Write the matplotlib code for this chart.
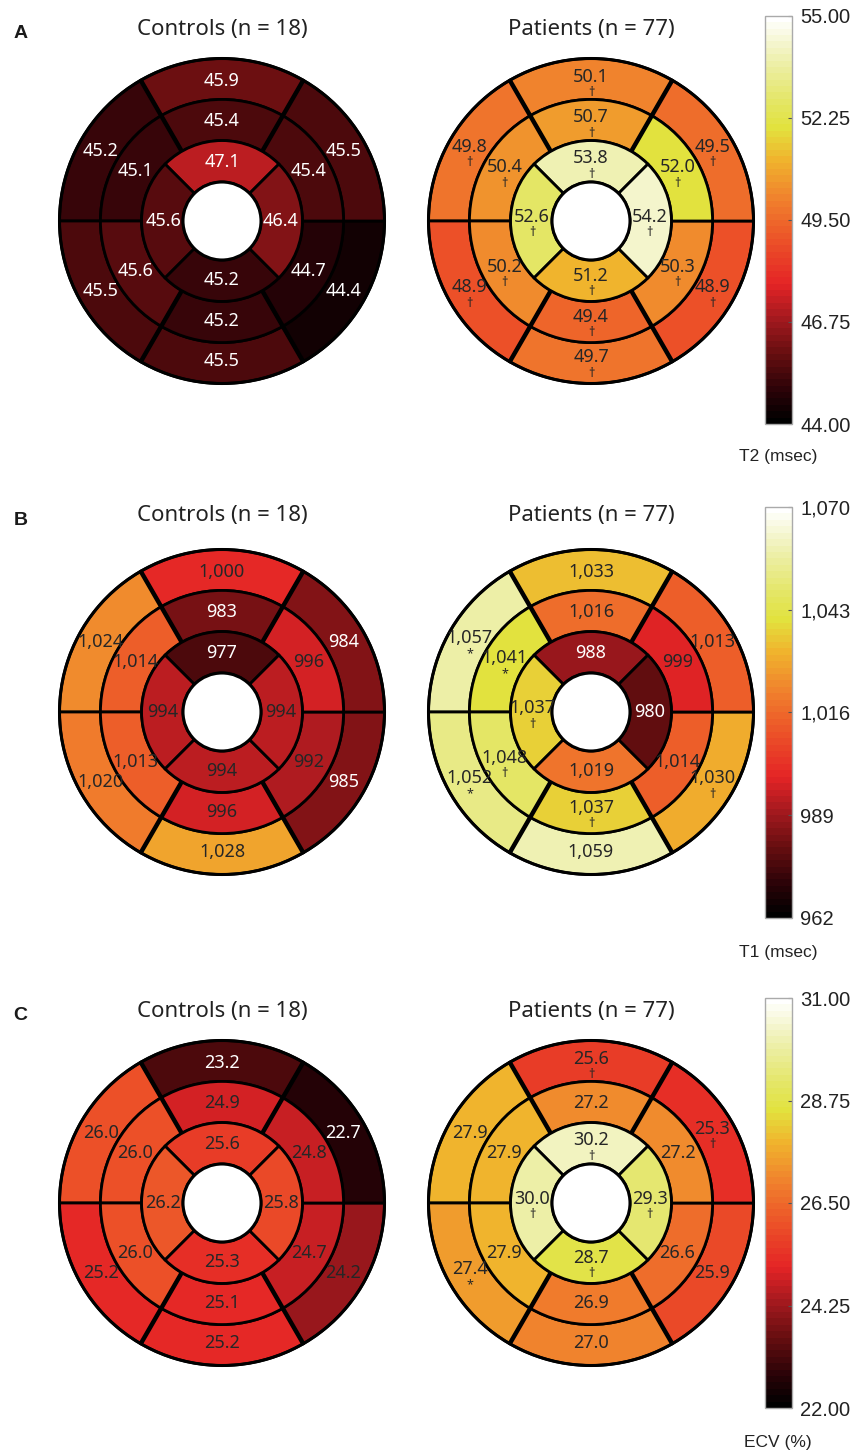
import numpy as np
import matplotlib
matplotlib.use("Agg")
import matplotlib.pyplot as plt
from matplotlib.patches import Wedge, Circle
from matplotlib.colors import LinearSegmentedColormap, Normalize
from matplotlib.cm import ScalarMappable

# ---------------- data ----------------
# ring order: top, upper-left, lower-left, bottom, lower-right, upper-right
# inner ring order: top, left, bottom, right
t2_ctrl_basal = [45.9, 45.2, 45.5, 45.5, 44.4, 45.5]
t2_ctrl_mid = [45.4, 45.1, 45.6, 45.2, 44.7, 45.4]
t2_ctrl_apical = [47.1, 45.6, 45.2, 46.4]
t2_pat_basal = [50.1, 49.8, 48.9, 49.7, 48.9, 49.5]
t2_pat_mid = [50.7, 50.4, 50.2, 49.4, 50.3, 52.0]
t2_pat_apical = [53.8, 52.6, 51.2, 54.2]
t2_pat_basal_mark = ["†"] * 6
t2_pat_mid_mark = ["†"] * 6
t2_pat_apical_mark = ["†"] * 4

t1_ctrl_basal = [1000, 1024, 1020, 1028, 985, 984]
t1_ctrl_mid = [983, 1014, 1013, 996, 992, 996]
t1_ctrl_apical = [977, 994, 994, 994]
t1_pat_basal = [1033, 1057, 1052, 1059, 1030, 1013]
t1_pat_mid = [1016, 1041, 1048, 1037, 1014, 999]
t1_pat_apical = [988, 1037, 1019, 980]
t1_pat_basal_mark = ["", "*", "*", "", "†", ""]
t1_pat_mid_mark = ["", "*", "†", "†", "", ""]
t1_pat_apical_mark = ["", "†", "", ""]

ecv_ctrl_basal = [23.2, 26.0, 25.2, 25.2, 24.2, 22.7]
ecv_ctrl_mid = [24.9, 26.0, 26.0, 25.1, 24.7, 24.8]
ecv_ctrl_apical = [25.6, 26.2, 25.3, 25.8]
ecv_pat_basal = [25.6, 27.9, 27.4, 27.0, 25.9, 25.3]
ecv_pat_mid = [27.2, 27.9, 27.9, 26.9, 26.6, 27.2]
ecv_pat_apical = [30.2, 30.0, 28.7, 29.3]
ecv_pat_basal_mark = ["†", "", "*", "", "", "†"]
ecv_pat_mid_mark = [""] * 6
ecv_pat_apical_mark = ["†"] * 4

t2_range = (44.0, 55.0)
t1_range = (962, 1070)
ecv_range = (22.0, 31.0)
t2_ticks = ["44.00", "46.75", "49.50", "52.25", "55.00"]
t1_ticks = ["962", "989", "1,016", "1,043", "1,070"]
ecv_ticks = ["22.00", "24.25", "26.50", "28.75", "31.00"]
cbar_labels = ["T2 (msec)", "T1 (msec)", "ECV (%)"]
panel_letters = ["A", "B", "C"]
titles = ["Controls (n = 18)", "Patients (n = 77)"]

# ---------------- colormap ----------------
stops = [
    (0.00, (0, 0, 0)),
    (0.08, (45, 3, 8)),
    (0.17, (105, 14, 16)),
    (0.25, (160, 25, 30)),
    (0.34, (228, 36, 38)),
    (0.45, (236, 82, 40)),
    (0.55, (240, 128, 45)),
    (0.65, (240, 180, 45)),
    (0.73, (226, 226, 62)),
    (0.80, (228, 230, 105)),
    (0.90, (238, 240, 175)),
    (1.00, (255, 255, 255)),
]
cmap = LinearSegmentedColormap.from_list(
    "heat", [(p, tuple(c / 255 for c in rgb)) for p, rgb in stops], N=64)

W, H = 857, 1454
fig = plt.figure(figsize=(W / 100, H / 100), dpi=100)
plt.rcParams["font.family"] = ["Noto Sans", "DejaVu Sans"]

R_PX = 162.5
LIM = 1.06
r_hole, r_ap, r_mid, r_bas = 0.24, 0.495, 0.748, 1.0
lab_r = {"bas": 0.862, "mid": 0.615, "ap": 0.362}
PX = 1.0 / R_PX


def fmt_val(v, kind):
    if kind == "t1":
        return f"{int(v):,}"
    return f"{v:.1f}"


def bullseye(cx, cy, basal, mid, apical, vmin, vmax, kind, thr, marks=None):
    half = LIM * R_PX
    ax = fig.add_axes([(cx - half) / W, (H - cy - half) / H, 2 * half / W, 2 * half / H])
    ax.set_xlim(-LIM, LIM)
    ax.set_ylim(-LIM, LIM)
    ax.set_aspect("equal")
    ax.axis("off")
    norm = Normalize(vmin, vmax)
    rings = [
        ("bas", basal, r_mid, r_bas, [90, 150, 210, 270, 330, 30], 30),
        ("mid", mid, r_ap, r_mid, [90, 150, 210, 270, 330, 30], 30),
        ("ap", apical, r_hole, r_ap, [90, 180, 270, 0], 45),
    ]
    for ri, (name, vals, rin, rout, angs, hw) in enumerate(rings):
        mk = marks[ri] if marks is not None else [""] * len(vals)
        for v, a, m in zip(vals, angs, mk):
            nv = norm(v)
            ax.add_patch(Wedge((0, 0), rout, a - hw, a + hw, width=rout - rin,
                               facecolor=cmap(nv), edgecolor="black", lw=2.0))
            tc = "white" if nv < thr else "#262626"
            rad = np.deg2rad(a)
            x, y = lab_r[name] * np.cos(rad), lab_r[name] * np.sin(rad)
            if m:
                ax.text(x, y + 4 * PX, fmt_val(v, kind), ha="center", va="center",
                        fontsize=13, color=tc, zorder=5)
                ax.text(x, y - 12 * PX, m, ha="center", va="center",
                        fontsize=9, color=tc, zorder=5)
            else:
                ax.text(x, y, fmt_val(v, kind), ha="center", va="center",
                        fontsize=13, color=tc, zorder=5)
    # thick radial dividers in basal/mid rings
    for a in [60, 120, 240, 300]:
        rad = np.deg2rad(a)
        ax.plot([r_ap * np.cos(rad), r_bas * np.cos(rad)],
                [r_ap * np.sin(rad), r_bas * np.sin(rad)],
                color="black", lw=3.2, solid_capstyle="butt", zorder=4)
    ax.add_patch(Circle((0, 0), r_bas, fill=False, edgecolor="black", lw=2.2, zorder=4))
    ax.add_patch(Circle((0, 0), r_hole, facecolor="white", edgecolor="black", lw=2.2, zorder=4))
    return ax


rows = [
    (t2_range, "t2", (t2_ctrl_basal, t2_ctrl_mid, t2_ctrl_apical),
     (t2_pat_basal, t2_pat_mid, t2_pat_apical),
     (t2_pat_basal_mark, t2_pat_mid_mark, t2_pat_apical_mark), t2_ticks),
    (t1_range, "t1", (t1_ctrl_basal, t1_ctrl_mid, t1_ctrl_apical),
     (t1_pat_basal, t1_pat_mid, t1_pat_apical),
     (t1_pat_basal_mark, t1_pat_mid_mark, t1_pat_apical_mark), t1_ticks),
    (ecv_range, "ecv", (ecv_ctrl_basal, ecv_ctrl_mid, ecv_ctrl_apical),
     (ecv_pat_basal, ecv_pat_mid, ecv_pat_apical),
     (ecv_pat_basal_mark, ecv_pat_mid_mark, ecv_pat_apical_mark), ecv_ticks),
]

row_cy = [221, 712, 1203]
text_thr = [0.30, 0.2425, 0.2425]
title_y = [30, 516, 1011]
letter_y = [34, 521, 1015]
cbar_y = [(16, 424), (507, 918), (998, 1408)]
cbar_lab_y = [456, 952, 1442]
ctrl_cx, pat_cx = 222, 591

for i, (rng, kind, ctrl, pat, marks, ticks) in enumerate(rows):
    cy = row_cy[i]
    bullseye(ctrl_cx, cy, *ctrl, rng[0], rng[1], kind, text_thr[i])
    bullseye(pat_cx, cy, *pat, rng[0], rng[1], kind, text_thr[i], marks=marks)
    fig.text(ctrl_cx / W, 1 - title_y[i] / H, titles[0], ha="center", va="center",
             fontsize=16, color="#222222")
    fig.text(pat_cx / W, 1 - title_y[i] / H, titles[1], ha="center", va="center",
             fontsize=16, color="#222222")
    fig.text(20.5 / W, 1 - letter_y[i] / H, panel_letters[i], ha="center", va="center",
             fontsize=14, fontweight="bold", color="#1a1a1a",
             family=["Liberation Sans", "DejaVu Sans"])
    y0, y1 = cbar_y[i]
    cax = fig.add_axes([765 / W, 1 - y1 / H, 27 / W, (y1 - y0) / H])
    sm = ScalarMappable(norm=Normalize(rng[0], rng[1]), cmap=cmap)
    cb = fig.colorbar(sm, cax=cax)
    tick_vals = np.linspace(rng[0], rng[1], len(ticks))
    cb.set_ticks(tick_vals)
    cb.set_ticklabels(ticks)
    cb.outline.set_edgecolor("#aaaaaa")
    cb.outline.set_linewidth(1.0)
    cax.tick_params(axis="y", direction="in", length=3, width=0.8, color="#555555",
                    pad=6, labelsize=14.5)
    for lab in cax.get_yticklabels():
        lab.set_family(["Liberation Sans", "DejaVu Sans"])
        lab.set_color("#222222")
    fig.text(778 / W, 1 - cbar_lab_y[i] / H, cbar_labels[i], ha="center", va="center",
             fontsize=12.5, color="#222222", family=["Liberation Sans", "DejaVu Sans"])

fig.savefig("out.png", dpi=100, facecolor="white")
